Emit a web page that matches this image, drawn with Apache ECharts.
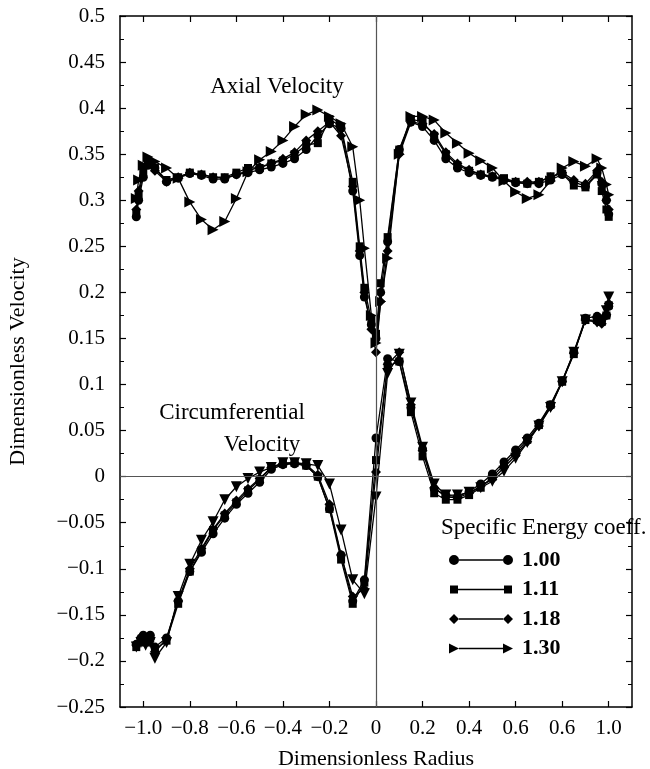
<!DOCTYPE html>
<html><head><meta charset="utf-8">
<script src="https://cdn.jsdelivr.net/npm/echarts@6/dist/echarts.min.js"></script>
<style>html,body{margin:0;padding:0;background:#fff}#c{width:650px;height:769px}</style>
</head><body><div id="c"></div><script>
const COEFFS = ['1.00', '1.11', '1.18', '1.30'];

const AXIAL_X = [-1.03, -1.02, -1.0, -0.98, -0.95, -0.9, -0.85, -0.8, -0.75, -0.7, -0.65, -0.6, -0.55, -0.5, -0.45, -0.4, -0.35, -0.3, -0.25, -0.2, -0.15, -0.1, -0.07, -0.05, -0.02, 0, 0.02, 0.05, 0.1, 0.15, 0.2, 0.25, 0.3, 0.35, 0.4, 0.45, 0.5, 0.55, 0.6, 0.65, 0.7, 0.75, 0.8, 0.85, 0.9, 0.95, 0.97, 0.99, 1.0];
const AXIAL_100 = [0.282, 0.30, 0.325, 0.338, 0.335, 0.32, 0.324, 0.329, 0.327, 0.323, 0.323, 0.328, 0.33, 0.333, 0.336, 0.34, 0.345, 0.355, 0.37, 0.383, 0.378, 0.31, 0.24, 0.195, 0.165, 0.15, 0.2, 0.255, 0.355, 0.385, 0.38, 0.365, 0.345, 0.335, 0.33, 0.327, 0.325, 0.322, 0.319, 0.318, 0.318, 0.322, 0.328, 0.32, 0.315, 0.33, 0.318, 0.3, 0.285];
const AXIAL_111 = [0.285, 0.305, 0.33, 0.342, 0.335, 0.322, 0.325, 0.33, 0.328, 0.325, 0.325, 0.33, 0.335, 0.335, 0.34, 0.343, 0.35, 0.36, 0.362, 0.388, 0.38, 0.32, 0.25, 0.205, 0.17, 0.155, 0.21, 0.26, 0.355, 0.388, 0.385, 0.37, 0.35, 0.338, 0.332, 0.328, 0.326, 0.324, 0.32, 0.318, 0.32, 0.326, 0.329, 0.316, 0.314, 0.328, 0.31, 0.29, 0.282];
const AXIAL_118 = [0.29, 0.31, 0.335, 0.34, 0.332, 0.32, 0.325, 0.33, 0.328, 0.325, 0.324, 0.328, 0.332, 0.336, 0.34, 0.345, 0.352, 0.365, 0.375, 0.385, 0.37, 0.315, 0.245, 0.2, 0.16, 0.135, 0.19, 0.245, 0.35, 0.385, 0.383, 0.372, 0.352, 0.34, 0.333, 0.328, 0.326, 0.322, 0.32, 0.32, 0.32, 0.325, 0.33, 0.322, 0.318, 0.332, 0.32, 0.3, 0.29];
const AXIAL_130 = [0.302, 0.322, 0.338, 0.347, 0.342, 0.335, 0.324, 0.298, 0.279, 0.268, 0.277, 0.302, 0.331, 0.344, 0.353, 0.365, 0.38, 0.393, 0.398, 0.391, 0.383, 0.358, 0.3, 0.248, 0.175, 0.145, 0.19, 0.237, 0.35, 0.391, 0.391, 0.387, 0.373, 0.362, 0.351, 0.343, 0.335, 0.321, 0.309, 0.302, 0.306, 0.321, 0.335, 0.342, 0.337, 0.345, 0.335, 0.317, 0.306];

const CIRC_X = [-1.03, -1.01, -1.0, -0.99, -0.97, -0.95, -0.9, -0.85, -0.8, -0.75, -0.7, -0.65, -0.6, -0.55, -0.5, -0.45, -0.4, -0.35, -0.3, -0.25, -0.2, -0.15, -0.1, -0.05, 0, 0.05, 0.1, 0.15, 0.2, 0.25, 0.3, 0.35, 0.4, 0.45, 0.5, 0.55, 0.6, 0.65, 0.7, 0.75, 0.8, 0.85, 0.9, 0.95, 0.97, 0.99, 1.0];
const CIRC_100 = [-0.182, -0.175, -0.172, -0.178, -0.172, -0.185, -0.175, -0.135, -0.103, -0.082, -0.062, -0.045, -0.03, -0.018, -0.006, 0.008, 0.013, 0.014, 0.012, 0.0, -0.035, -0.085, -0.135, -0.112, 0.042, 0.128, 0.125, 0.075, 0.03, -0.013, -0.02, -0.022, -0.016, -0.008, 0.003, 0.016, 0.029, 0.042, 0.058, 0.078, 0.104, 0.135, 0.172, 0.174, 0.17, 0.175, 0.185];
const CIRC_111 = [-0.185, -0.178, -0.175, -0.18, -0.175, -0.188, -0.178, -0.138, -0.103, -0.08, -0.058, -0.042, -0.028, -0.015, -0.003, 0.01, 0.014, 0.015, 0.012, 0.0, -0.035, -0.09, -0.138, -0.115, 0.018, 0.12, 0.125, 0.07, 0.022, -0.018, -0.025, -0.025, -0.02, -0.012, 0.0, 0.013, 0.026, 0.04, 0.056, 0.078, 0.103, 0.133, 0.17, 0.17, 0.168, 0.175, 0.186];
const CIRC_118 = [-0.183, -0.176, -0.174, -0.18, -0.176, -0.19, -0.176, -0.135, -0.1, -0.078, -0.057, -0.04, -0.026, -0.013, -0.002, 0.01, 0.014, 0.015, 0.013, 0.002, -0.03, -0.085, -0.13, -0.122, 0.005, 0.122, 0.135, 0.078, 0.028, -0.012, -0.022, -0.023, -0.018, -0.01, -0.003, 0.01, 0.023, 0.038, 0.055, 0.076, 0.103, 0.134, 0.17, 0.168, 0.166, 0.176, 0.188];
const CIRC_130 = [-0.185, -0.18, -0.178, -0.183, -0.18, -0.197, -0.18, -0.13, -0.095, -0.069, -0.049, -0.025, -0.011, -0.002, 0.005, 0.01, 0.015, 0.015, 0.014, 0.012, -0.008, -0.058, -0.112, -0.127, -0.022, 0.112, 0.133, 0.08, 0.032, -0.008, -0.02, -0.02, -0.017, -0.012, -0.005, 0.006, 0.02, 0.037, 0.055, 0.075, 0.103, 0.135, 0.17, 0.168, 0.17, 0.18, 0.195];

const X_TICKS = [-1.0, -0.8, -0.6, -0.4, -0.2, 0, 0.2, 0.4, 0.6, 0.8, 1.0];
const X_TICK_LABELS = ['−1.0', '−0.8', '−0.6', '−0.4', '−0.2', '0', '0.2', '0.4', '0.6', '0.6', '1.0'];
const Y_TICKS = [-0.25, -0.2, -0.15, -0.1, -0.05, 0, 0.05, 0.1, 0.15, 0.2, 0.25, 0.3, 0.35, 0.4, 0.45, 0.5];
const Y_TICK_LABELS = ['−0.25', '−0.2', '−0.15', '−0.1', '−0.05', '0', '0.05', '0.1', '0.15', '0.2', '0.25', '0.3', '0.35', '0.4', '0.45', '0.5'];

const AXIAL = [AXIAL_100, AXIAL_111, AXIAL_118, AXIAL_130];
const CIRC = [CIRC_100, CIRC_111, CIRC_118, CIRC_130];

const FONT = 'Liberation Serif';
const SYMBOLS = ['circle', 'rect', 'diamond', 'triangle'];
const SIZES = [9, 8, 10, 11];
const AX_ROT = [0, 0, 0, -90];
const CI_ROT = [0, 0, 0, 180];
const ICONS = [
  'path://M0,5 A5,5 0 1,1 10,5 A5,5 0 1,1 0,5 Z M10,4.3 L54,4.3 L54,5.7 L10,5.7 Z M54,5 A5,5 0 1,1 64,5 A5,5 0 1,1 54,5 Z',
  'path://M1,1 L9,1 L9,9 L1,9 Z M9,4.3 L55,4.3 L55,5.7 L9,5.7 Z M55,1 L63,1 L63,9 L55,9 Z M0,0 L0,0.01 L0.01,0 Z M64,10 L64,9.99 L63.99,10 Z',
  'path://M0,5 L5,0 L10,5 L5,10 Z M10,4.3 L54,4.3 L54,5.7 L10,5.7 Z M54,5 L59,0 L64,5 L59,10 Z',
  'path://M0,0 L10,5 L0,10 Z M10,4.3 L54,4.3 L54,5.7 L10,5.7 Z M54,0 L64,5 L54,10 Z'
];

function pairs(xs, ys) { return xs.map((x, i) => [x, ys[i]]); }
function labelFor(v, ticks, labels) {
  for (let i = 0; i < ticks.length; i++) if (Math.abs(ticks[i] - v) < 1e-6) return labels[i];
  return '';
}

const series = [];
COEFFS.forEach((name, i) => {
  series.push({
    name, type: 'line', data: pairs(AXIAL_X, AXIAL[i]),
    symbol: SYMBOLS[i], symbolSize: SIZES[i], symbolRotate: AX_ROT[i],
    lineStyle: { color: '#000', width: 1.3 }, itemStyle: { color: '#000' },
    z: 3
  });
  series.push({
    name, type: 'line', data: pairs(CIRC_X, CIRC[i]),
    symbol: SYMBOLS[i], symbolSize: SIZES[i], symbolRotate: CI_ROT[i],
    lineStyle: { color: '#000', width: 1.3 }, itemStyle: { color: '#000' },
    z: 3
  });
});
series[0].markLine = {
  silent: true, symbol: 'none', label: { show: false },
  lineStyle: { color: '#555', width: 1.2, type: 'solid' },
  data: [{ xAxis: 0 }, { yAxis: 0 }]
};

const axisLineStyle = { onZero: false, lineStyle: { color: '#000', width: 1.5 } };
const tickStyle = { color: '#000', width: 1.2 };
const chart = echarts.init(document.getElementById('c'), null, { renderer: 'canvas' });
chart.setOption({
  animation: false,
  backgroundColor: '#fff',
  grid: { left: 120, top: 16, right: 18, bottom: 62, containLabel: false, outerBoundsMode: 'none' },
  xAxis: [{
    type: 'value', min: -1.1, max: 1.1, position: 'bottom',
    axisLine: axisLineStyle,
    axisTick: { inside: true, length: 6, customValues: X_TICKS, lineStyle: tickStyle },
    axisLabel: { customValues: X_TICKS, margin: 11, color: '#000', fontFamily: FONT, fontSize: 21,
      formatter: v => labelFor(v, X_TICKS, X_TICK_LABELS) },
    splitLine: { show: false },
    name: 'Dimensionless Radius', nameLocation: 'middle', nameGap: 41,
    nameTextStyle: { color: '#000', fontFamily: FONT, fontSize: 22 }
  }, {
    type: 'value', min: -1.1, max: 1.1, position: 'top',
    axisLine: axisLineStyle,
    axisTick: { inside: true, length: 6, customValues: X_TICKS, lineStyle: tickStyle },
    axisLabel: { show: false }, splitLine: { show: false }
  }],
  yAxis: [{
    type: 'value', min: -0.25, max: 0.5, interval: 0.05, position: 'left',
    axisLine: axisLineStyle,
    axisTick: { inside: true, length: 6, lineStyle: tickStyle },
    minorTick: { show: true, splitNumber: 2, length: 4, lineStyle: { color: '#000', width: 1 } },
    axisLabel: { margin: 15, color: '#000', fontFamily: FONT, fontSize: 21,
      formatter: v => labelFor(v, Y_TICKS, Y_TICK_LABELS) },
    splitLine: { show: false },
    name: 'Dimensionless Velocity', nameLocation: 'middle', nameGap: 91,
    nameTextStyle: { color: '#000', fontFamily: FONT, fontSize: 22 }
  }, {
    type: 'value', min: -0.25, max: 0.5, interval: 0.05, position: 'right',
    axisLine: axisLineStyle,
    axisTick: { inside: true, length: 6, lineStyle: tickStyle },
    minorTick: { show: true, splitNumber: 2, length: 4, lineStyle: { color: '#000', width: 1 } },
    axisLabel: { show: false }, splitLine: { show: false }
  }],
  legend: {
    orient: 'vertical', left: 444, top: 544,
    itemWidth: 64, itemHeight: 10, itemGap: 7.5,
    data: COEFFS.map((n, i) => ({ name: n, icon: ICONS[i] })),
    textStyle: { color: '#000', fontFamily: FONT, fontSize: 22, fontWeight: 'bold', padding: [0, 0, 0, 4] },
    selectedMode: false
  },
  graphic: [
    { type: 'text', x: 277, y: 87, style: { text: 'Axial Velocity', fill: '#000', font: '23px "Liberation Serif"', textAlign: 'center', textVerticalAlign: 'middle' } },
    { type: 'text', x: 232, y: 413, style: { text: 'Circumferential', fill: '#000', font: '23px "Liberation Serif"', textAlign: 'center', textVerticalAlign: 'middle' } },
    { type: 'text', x: 262, y: 445, style: { text: 'Velocity', fill: '#000', font: '23px "Liberation Serif"', textAlign: 'center', textVerticalAlign: 'middle' } },
    { type: 'text', x: 441, y: 528, style: { text: 'Specific Energy coeff.', fill: '#000', font: '23px "Liberation Serif"', textAlign: 'left', textVerticalAlign: 'middle' } }
  ],
  series
});
</script></body></html>
